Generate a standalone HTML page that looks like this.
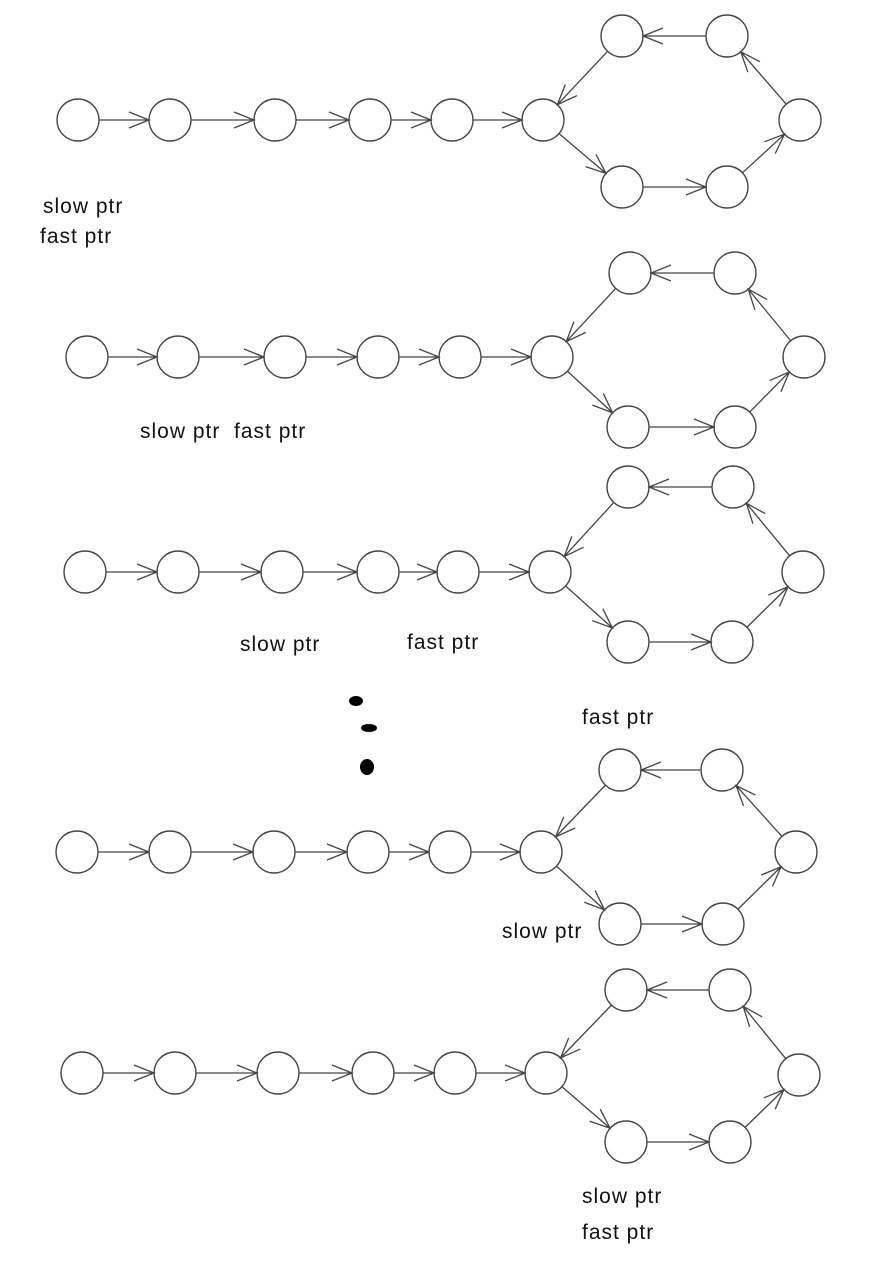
<!DOCTYPE html>
<html><head><meta charset="utf-8"><style>
html,body{margin:0;padding:0;background:#fff;width:880px;height:1266px;overflow:hidden}
svg text{font-family:"Liberation Sans",sans-serif;font-size:21px;letter-spacing:1px;fill:#111}
</style></head><body>
<svg id="s" width="880" height="1266" xmlns="http://www.w3.org/2000/svg">
<text x="43" y="213">slow ptr</text>
<text x="40" y="243">fast ptr</text>
<text x="140" y="438">slow ptr&#160;&#160;fast ptr</text>
<text x="240" y="651">slow ptr</text>
<text x="407" y="649">fast ptr</text>
<text x="582" y="724">fast ptr</text>
<text x="502" y="938">slow ptr</text>
<text x="582" y="1203">slow ptr</text>
<text x="582" y="1239">fast ptr</text>
<ellipse cx="356" cy="701" rx="7" ry="5" fill="#000"/>
<ellipse cx="369" cy="728" rx="8" ry="4" fill="#000"/>
<ellipse cx="367" cy="767" rx="7" ry="8" fill="#000"/>
</svg>
<script>
var D=[
 [[78,170,275,370,452,543],120,[[622,36],[727,36],[800,120],[727,187],[622,187]]],
 [[87,178,285,378,460,552],357,[[630,273],[735,273],[804,357],[735,427],[628,427]]],
 [[85,178,282,378,458,550],572,[[628,487],[733,487],[803,572],[732,642],[628,642]]],
 [[77,170,274,368,450,541],852,[[620,770],[722,770],[796,852],[723,924],[620,924]]],
 [[82,175,278,373,455,546],1073,[[626,990],[730,990],[799,1075],[730,1142],[626,1142]]]
];
var s=document.getElementById('s'),h='',R=21;
function arrow(a,b){var dx=b[0]-a[0],dy=b[1]-a[1],L=Math.hypot(dx,dy),ux=dx/L,uy=dy/L;
 var x1=a[0]+ux*R,y1=a[1]+uy*R,x2=b[0]-ux*R,y2=b[1]-uy*R;
 var px=-uy,py=ux,ax=x2-ux*20,ay=y2-uy*20;
 h+='<path d="M'+x1+' '+y1+'L'+x2+' '+y2+'M'+(ax+px*8)+' '+(ay+py*8)+'L'+x2+' '+y2+'L'+(ax-px*8)+' '+(ay-py*8)+'" stroke="#444" stroke-width="1.3" fill="none"/>';}
D.forEach(function(d){var n=d[0].map(function(x){return [x,d[1]]});var l=d[2];
 var all=n.concat(l);
 all.forEach(function(p){h+='<circle cx="'+p[0]+'" cy="'+p[1]+'" r="'+R+'" fill="none" stroke="#444" stroke-width="1.4"/>';});
 for(var i=0;i<5;i++)arrow(n[i],n[i+1]);
 arrow(n[5],l[4]);arrow(l[4],l[3]);arrow(l[3],l[2]);arrow(l[2],l[1]);arrow(l[1],l[0]);arrow(l[0],n[5]);
});
s.insertAdjacentHTML('beforeend',h);
</script>
</body></html>
